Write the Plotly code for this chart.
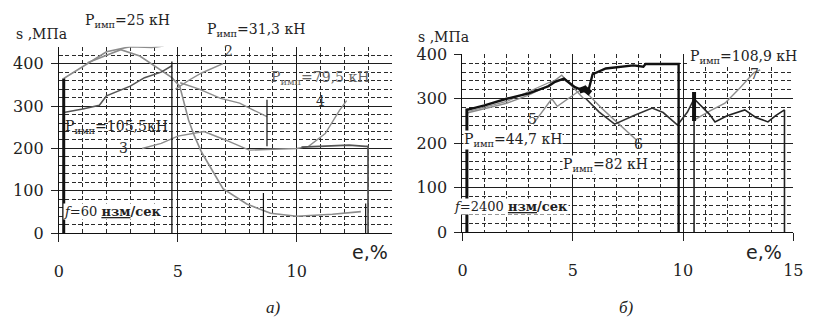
import plotly.graph_objects as go

# ---------------- (a) f = 60 изм/сек ----------------
a1_x = [0.2, 0.9, 2.0, 3.0, 3.9, 4.4]
a1_y = [365, 390, 428, 440, 438, 442]
a1d_x = [4.75, 4.75]
a1d_y = [405, 0]
a0_x = [0.2, 0.2]
a0_y = [0, 365]
a2_x = [1.2, 2.6, 3.4, 4.2, 4.75, 5.08, 5.45, 5.7, 6.0, 6.9, 7.9, 8.9, 10.0, 11.5, 12.7]
a2_y = [402, 433, 418, 389, 367, 347, 267, 229, 191, 105, 69, 47, 40, 45, 51]
a2d_x = [12.9, 12.9]
a2d_y = [70, 0]
a3_x = [0.2, 1.0, 1.7, 2.0, 3.0, 3.6, 4.3, 4.75]
a3_y = [285, 293, 302, 324, 347, 367, 380, 395]
a5_x = [4.9, 5.5, 6.0, 6.5, 6.9]
a5_y = [340, 362, 378, 390, 400]
a6_x = [5.1, 5.9, 6.8, 7.6, 8.2, 8.75]
a6_y = [355, 340, 318, 307, 290, 275]
a6d_x = [8.75, 8.75]
a6d_y = [315, 205]
a6e_x = [8.6, 8.6]
a6e_y = [95, 0]
a4_x = [3.5, 4.3, 5.0, 6.1, 7.0, 8.0, 9.0, 10.0, 10.5, 11.2, 11.8, 12.1]
a4_y = [200, 212, 229, 240, 220, 196, 198, 200, 205, 235, 290, 313]
a4b_x = [10.2, 11.5, 12.2, 12.9, 13.0, 13.0]
a4b_y = [203, 207, 208, 205, 205, 0]

# ---------------- (b) f = 2400 изм/сек ----------------
b0_x = [0.2, 0.2]
b0_y = [0, 278]
b1_x = [0.2, 1.0, 2.0, 3.0, 3.9, 4.2, 4.6, 5.1, 5.5, 5.7, 5.9, 6.5, 7.75, 8.2, 8.3, 9.2, 9.8, 9.8]
b1_y = [275, 285, 300, 312, 328, 338, 345, 326, 318, 316, 355, 368, 375, 372, 378, 379, 378, 0]
blob_x = [5.3, 5.55, 5.8]
blob_y = [318, 322, 312]
b5_x = [0.2, 1.0, 2.0, 3.0, 3.9, 4.5, 5.1, 5.5]
b5_y = [268, 278, 290, 308, 330, 353, 322, 300]
b5b_x = [0.3, 2.0, 3.9, 4.3]
b5b_y = [272, 294, 336, 343]
b5z_x = [3.2, 3.6, 4.05, 4.3, 4.8, 5.3, 5.6]
b5z_y = [243, 270, 300, 283, 300, 318, 330]
b6_x = [5.4, 5.8, 6.3, 6.9, 7.6, 7.9]
b6_y = [325, 305, 279, 252, 222, 207]
b6z_x = [5.6, 6.2, 6.9, 7.4, 7.75, 8.6, 9.1, 9.75, 10.2, 10.5]
b6z_y = [300, 270, 243, 255, 262, 279, 269, 241, 270, 300]
b7_x = [10.5, 11.2, 11.9, 12.5, 13.2, 13.5]
b7_y = [252, 272, 290, 320, 358, 365]
b8_x = [10.5, 10.5, 11.2, 11.45, 12.0, 12.8, 13.3, 13.85, 14.2, 14.6, 14.6]
b8_y = [0, 300, 265, 248, 262, 275, 258, 248, 262, 275, 0]
b8t_x = [10.5, 10.5]
b8t_y = [250, 315]

x_ticks_a = [0, 5, 10]
x_ticks_b = [0, 5, 10, 15]
y_ticks = [0, 100, 200, 300, 400]

GRAY = "#8c8c8c"
DARK = "#555555"
BLACK = "#111111"

fig = go.Figure()


def add(x, y, xa, ya, color, width):
    fig.add_trace(go.Scatter(x=x, y=y, mode="lines", xaxis=xa, yaxis=ya,
                             line=dict(color=color, width=width),
                             showlegend=False, hoverinfo="skip"))


# (a)
add(a1_x, a1_y, "x", "y", GRAY, 1.6)
add(a2_x, a2_y, "x", "y", GRAY, 1.6)
add(a3_x, a3_y, "x", "y", DARK, 1.6)
add(a5_x, a5_y, "x", "y", GRAY, 1.4)
add(a6_x, a6_y, "x", "y", GRAY, 1.4)
add(a4_x, a4_y, "x", "y", GRAY, 1.4)
add(a4b_x, a4b_y, "x", "y", DARK, 1.8)
add(a1d_x, a1d_y, "x", "y", BLACK, 1.3)
add(a2d_x, a2d_y, "x", "y", BLACK, 1.2)
add(a6d_x, a6d_y, "x", "y", BLACK, 1.2)
add(a6e_x, a6e_y, "x", "y", BLACK, 1.2)
add(a0_x, a0_y, "x", "y", BLACK, 3)

# (b)
add(b5_x, b5_y, "x2", "y2", GRAY, 1.4)
add(b5b_x, b5b_y, "x2", "y2", GRAY, 1.2)
add(b5z_x, b5z_y, "x2", "y2", GRAY, 1.4)
add(b6_x, b6_y, "x2", "y2", GRAY, 1.4)
add(b7_x, b7_y, "x2", "y2", GRAY, 1.4)
add(b6z_x, b6z_y, "x2", "y2", "#333333", 1.6)
add(b8_x, b8_y, "x2", "y2", "#222222", 1.6)
add(b1_x, b1_y, "x2", "y2", BLACK, 2.4)
add(blob_x, blob_y, "x2", "y2", BLACK, 6)
add(b8t_x, b8t_y, "x2", "y2", BLACK, 4)
add(b0_x, b0_y, "x2", "y2", BLACK, 3)

SERIF = "DejaVu Serif"
TIMES = "Liberation Serif"
tickfont = dict(family=SERIF, size=16, color="#222")


def xaxis(domain, rng, ticks, anchor):
    return dict(domain=domain, range=rng, anchor=anchor, tickvals=ticks,
                ticktext=[str(t) for t in ticks], showgrid=True,
                gridcolor="#1e1e1e", gridwidth=1, zeroline=False,
                showline=True, linecolor="#111", linewidth=1.3,
                ticks="outside", ticklen=8, tickcolor="#222",
                tickfont=tickfont, ticklabelstandoff=15,
                minor=dict(dtick=1, tick0=0, showgrid=True, gridcolor="#2a2a2a",
                           griddash="4px,2.5px", gridwidth=1))


def yaxis(domain, rng, anchor):
    return dict(domain=domain, range=rng, anchor=anchor, tickvals=y_ticks,
                ticktext=[str(t) for t in y_ticks], showgrid=True,
                gridcolor="#1e1e1e", gridwidth=1, zeroline=False,
                showline=True, linecolor="#111", linewidth=1.3,
                ticks="outside", ticklen=7, tickcolor="#222",
                tickfont=tickfont, ticklabelstandoff=4,
                minor=dict(dtick=20, tick0=0, showgrid=True, gridcolor="#2a2a2a",
                           griddash="4px,2.5px", gridwidth=1))


def P(v):
    return "P<sub>имп</sub>=" + v


ann_font = dict(family=SERIF, size=14, color="#222")
ann_gray = dict(family=SERIF, size=14, color="#666")
num_font = dict(family=SERIF, size=14, color="#333")
cap_font = dict(family=TIMES, size=17, color="#222")


def A(text, x, y, xref, yref, font, bg=None):
    d = dict(text=text, x=x, y=y, xref=xref, yref=yref, showarrow=False,
             font=font, xanchor="center", yanchor="middle")
    if bg:
        d["bgcolor"] = bg
        d["borderpad"] = 0
    return d


annotations = [
    # (a)
    A("s ,МПа", 0.046, 0.918, "paper", "paper", ann_font),
    A(P("25 кН"), 0.153, 0.962, "paper", "paper", ann_font),
    A(P("31,3 кН"), 0.312, 0.932, "paper", "paper", ann_font),
    A(P("79,5 кН"), 11.0, 367, "x", "y", ann_gray),
    A(P("105,5кН"), 2.4, 251, "x", "y", ann_font),
    A("1", 4.5, 444, "x", "y", num_font),
    A("2", 7.15, 431, "x", "y", num_font),
    A("3", 2.7, 202, "x", "y", num_font),
    A("4", 11.0, 313, "x", "y", num_font),
    A("<i>f</i>=60 <b><u>нзм</u>/сек</b>", 2.25, 51, "x", "y",
      dict(family=SERIF, size=13, color="#222"), "white"),
    A("e,%", 0.455, 0.216, "paper", "paper", dict(family="DejaVu Sans", size=19, color="#222")),
    A("<i>а)</i>", 0.334, 0.036, "paper", "paper", cap_font),
    # (b)
    A("s ,МПа", 0.546, 0.91, "paper", "paper", ann_font),
    A(P("108,9 кН"), 12.75, 394, "x2", "y2", ann_font, "white"),
    A(P("44,7 кН"), 2.3, 207, "x2", "y2", ann_font, "white"),
    A(P("82 кН"), 6.5, 152, "x2", "y2", ann_font, "white"),
    A("5", 3.16, 254, "x2", "y2", num_font),
    A("6", 7.97, 199, "x2", "y2", num_font),
    A("7", 13.25, 356, "x2", "y2", num_font),
    A("<i>f</i>=2400 <b><u>нзм</u>/сек</b>", 2.2, 57, "x2", "y2",
      dict(family=SERIF, size=13, color="#222"), "white"),
    A("e,%", 0.945, 0.216, "paper", "paper", dict(family="DejaVu Sans", size=19, color="#222")),
    A("<i>б)</i>", 0.774, 0.036, "paper", "paper", cap_font),
]

fig.update_layout(
    width=818, height=329,
    margin=dict(l=0, r=0, t=0, b=0),
    paper_bgcolor="white", plot_bgcolor="white",
    xaxis=xaxis([0.0672, 0.4817], [0, 14], x_ticks_a, "y"),
    yaxis=yaxis([0.2766, 0.8784], [0, 440], "x"),
    xaxis2=xaxis([0.5697, 0.9817], [0, 15], x_ticks_b, "y2"),
    yaxis2=yaxis([0.2796, 0.8541], [0, 400], "x2"),
    annotations=annotations,
)

fig.write_html("out.html")
